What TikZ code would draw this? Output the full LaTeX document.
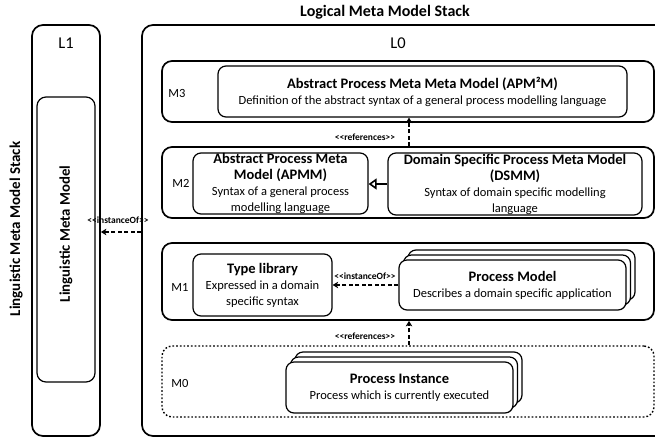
\documentclass[tikz,border=0pt]{standalone}
\usepackage{fontspec}
\setmainfont{Carlito}
\usetikzlibrary{arrows.meta}

\newcommand\hd[1]{{\fontsize{14.5}{16}\selectfont\bfseries #1}}
\newcommand\stereo[1]{<{}<#1>{}>}

\begin{document}
\begin{tikzpicture}[x=1pt,y=-1pt,
  outerbox/.style={draw, rounded corners=11pt, line width=1.7pt, inner sep=0pt},
  layer/.style={draw, rounded corners=10pt, line width=1.7pt, inner sep=0pt},
  item/.style={draw, fill=white, rounded corners=8pt, line width=1.2pt, inner sep=0pt,
    align=center, font=\fontsize{12.5}{16}\selectfont},
  lvl/.style={font=\fontsize{12.5}{14}\selectfont},
  lbl/.style={font=\fontsize{16.5}{18}\selectfont},
  stlabel/.style={font=\fontsize{9.5}{10}\selectfont\bfseries, inner sep=0pt},
  dep/.style={-{Stealth[length=5.5pt,width=6.5pt,inset=1.5pt]}, dash pattern=on 4pt off 2.5pt, line width=1.5pt},
  gen/.style={-{Triangle[open,length=8pt,width=11pt]}, line width=1.6pt}]
\useasboundingbox (0,0) rectangle (655,437);
\clip (0,0) rectangle (655,437);

% titles
\node[font=\fontsize{16}{18}\selectfont\bfseries] (ttl) at (385,12) {Logical Meta Model Stack};
\node[font=\fontsize{15}{17}\selectfont\bfseries, rotate=90] (lstack) at (16,229) {Linguistic Meta Model Stack};

% linguistic level L1
\node[outerbox, minimum width=68, minimum height=411] (l1) at (66,230.5) {};
\node[lbl] (l1t) at (66,43) {L1};
\node[outerbox, rounded corners=9pt, line width=1.2pt, minimum width=58, minimum height=285] (lmm) at (66,239.5) {};
\node[font=\fontsize{14.8}{16}\selectfont\bfseries, rotate=90] (lmmt) at (66,234) {Linguistic Meta Model};

% linguistic level L0
\node[outerbox, minimum width=558, minimum height=411] (l0) at (421,230.5) {};
\node[lbl] (l0t) at (398,43) {L0};

% logical layers
\node[layer, minimum width=492, minimum height=61] (m3) at (408,91.5) {};
\node[layer, minimum width=492, minimum height=71] (m2) at (408,182.5) {};
\node[layer, minimum width=492, minimum height=77] (m1) at (408,281.5) {};
\node[layer, dotted, line width=1.4pt, minimum width=492, minimum height=71] (m0) at (408,381.5) {};

\node[lvl] (m3t) at (177,93) {M3};
\node[lvl] (m2t) at (181,183) {M2};
\node[lvl] (m1t) at (180,287) {M1};
\node[lvl] (m0t) at (180,383) {M0};

% M3
\node[item, minimum width=409, minimum height=51] (apm) at (422.5,91.5)
  {\hd{Abstract Process Meta Meta Model (APM²M)}\\Definition of the abstract syntax of a general process modelling language};

% M2
\node[item, minimum width=175, minimum height=61] (apmm) at (280.5,183.5)
  {\hd{Abstract Process Meta}\\\hd{Model (APMM)}\\Syntax of a general process\\modelling language};
\node[item, minimum width=254, minimum height=62] (dsmm) at (515,184)
  {\hd{Domain Specific Process Meta Model}\\\hd{(DSMM)}\\Syntax of domain specific modelling\\language};

% M1
\node[item, minimum width=139, minimum height=62] (tl) at (262.5,285)
  {\hd{Type library}\\Expressed in a domain\\specific syntax};
\node[item, minimum width=227, minimum height=50] (pmb2) at (521.5,275) {};
\node[item, minimum width=227, minimum height=50] (pmb1) at (517,280) {};
\node[item, minimum width=227, minimum height=50] (pm) at (512.5,285)
  {\hd{Process Model}\\Describes a domain specific application};

% M0
\node[item, minimum width=227, minimum height=51] (pib2) at (408.5,377.5) {};
\node[item, minimum width=227, minimum height=51] (pib1) at (404,382.5) {};
\node[item, minimum width=227, minimum height=51] (pi) at (399.5,387.5)
  {\hd{Process Instance}\\Process which is currently executed};

% connectors
\coordinate (refx) at (409,0);
\coordinate (insty) at (0,232);
\draw[dep] (m2.north -| refx) -- (apm.south -| refx);
\draw[dep] (m0.north -| refx) -- (m1.south -| refx);
\draw[dep] (pm.west) -- (tl.east);
\draw[dep] (l0.west |- insty) -- (l1.east |- insty);
\draw[gen] (dsmm.west) -- (dsmm.west -| apmm.east);

\node[stlabel] (r1) at (365,137) {\stereo{references}};
\node[stlabel] (r2) at (365,336) {\stereo{references}};
\node[stlabel] (i1) at (365,276) {\stereo{instanceOf}};
\node[stlabel] (i2) at (118,220) {\stereo{instanceOf}};
\end{tikzpicture}
\end{document}
